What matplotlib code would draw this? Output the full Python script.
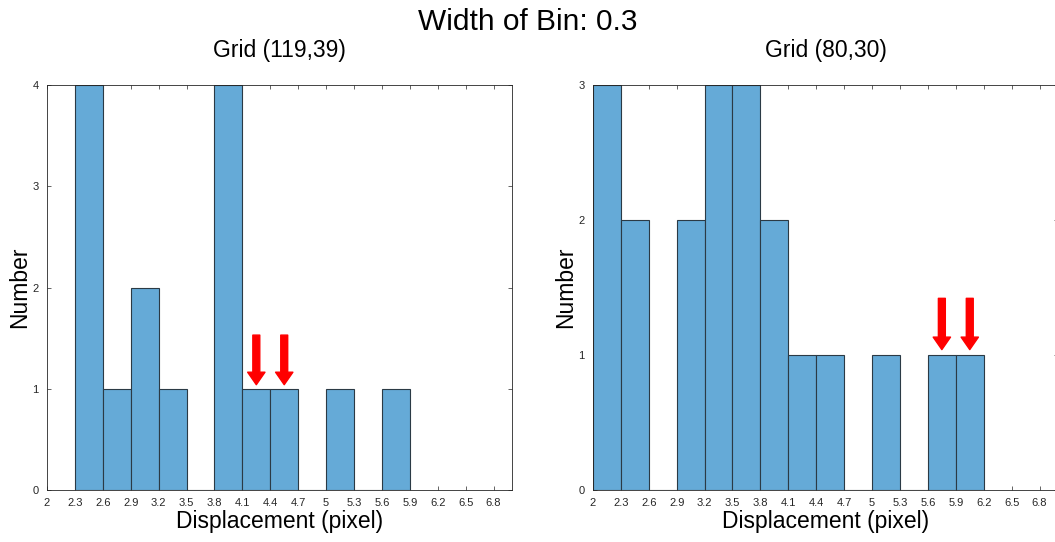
import matplotlib.pyplot as plt

plt.rcParams['font.family'] = ['Liberation Sans', 'DejaVu Sans']

bin_width = 0.3
tick_vals = [2, 2.3, 2.6, 2.9, 3.2, 3.5, 3.8, 4.1, 4.4, 4.7, 5, 5.3, 5.6, 5.9, 6.2, 6.5, 6.8]
tick_labels = ['2', '2.3', '2.6', '2.9', '3.2', '3.5', '3.8', '4.1', '4.4', '4.7',
               '5', '5.3', '5.6', '5.9', '6.2', '6.5', '6.8']

# left panel: Grid (119,39)
left_starts = [2.3, 2.6, 2.9, 3.2, 3.5, 3.8, 4.1, 4.4, 4.7, 5.0, 5.3, 5.6]
left_counts = [4, 1, 2, 1, 0, 4, 1, 1, 0, 1, 0, 1]
left_arrows = [4.25, 4.55]
left_arrow_top = 1.53

# right panel: Grid (80,30)
right_starts = [2.0, 2.3, 2.6, 2.9, 3.2, 3.5, 3.8, 4.1, 4.4, 4.7, 5.0, 5.3, 5.6, 5.9]
right_counts = [3, 2, 0, 2, 3, 3, 2, 1, 1, 0, 1, 0, 1, 1]
right_arrows = [5.75, 6.05]
right_arrow_top = 1.42

bar_color = '#65aad7'
axis_color = '#262626'

fig = plt.figure(figsize=(10.55, 5.42), dpi=100)
ax1 = fig.add_axes([0.0445, 0.096, 0.441, 0.747])
ax2 = fig.add_axes([0.562, 0.096, 0.441, 0.747])


def draw_panel(ax, starts, counts, arrows, arrow_top, title):
    ax.bar(starts, counts, width=bin_width, align='edge', color=bar_color,
           edgecolor='#2b3a45', linewidth=0.8, zorder=2)
    ymax = max(counts)
    ax.set_xlim(2, 7)
    ax.set_ylim(0, ymax)
    ax.set_xticks(tick_vals)
    ax.set_xticklabels(tick_labels)
    ax.set_yticks(range(0, ymax + 1))
    ax.tick_params(direction='in', top=True, right=True, length=3, width=0.5,
                   labelsize=8, colors=axis_color, pad=6)
    for s in ax.spines.values():
        s.set_color(axis_color)
        s.set_linewidth(0.6)
    for x in arrows:
        ax.annotate('', xy=(x, 1.04), xytext=(x, arrow_top),
                    arrowprops=dict(facecolor='red', edgecolor='red', width=5,
                                    headwidth=12.5, headlength=9, shrink=0),
                    zorder=5)
    ax.set_title(title, fontsize=16.5, pad=20)
    ax.set_xlabel('Displacement (pixel)', fontsize=16.5, labelpad=1)
    ax.set_ylabel('Number', fontsize=16.5, labelpad=1)


draw_panel(ax1, left_starts, left_counts, left_arrows, left_arrow_top, 'Grid (119,39)')
draw_panel(ax2, right_starts, right_counts, right_arrows, right_arrow_top, 'Grid (80,30)')

fig.suptitle('Width of Bin: 0.3', fontsize=21.5, y=0.985)

fig.savefig('out.png', dpi=100)
